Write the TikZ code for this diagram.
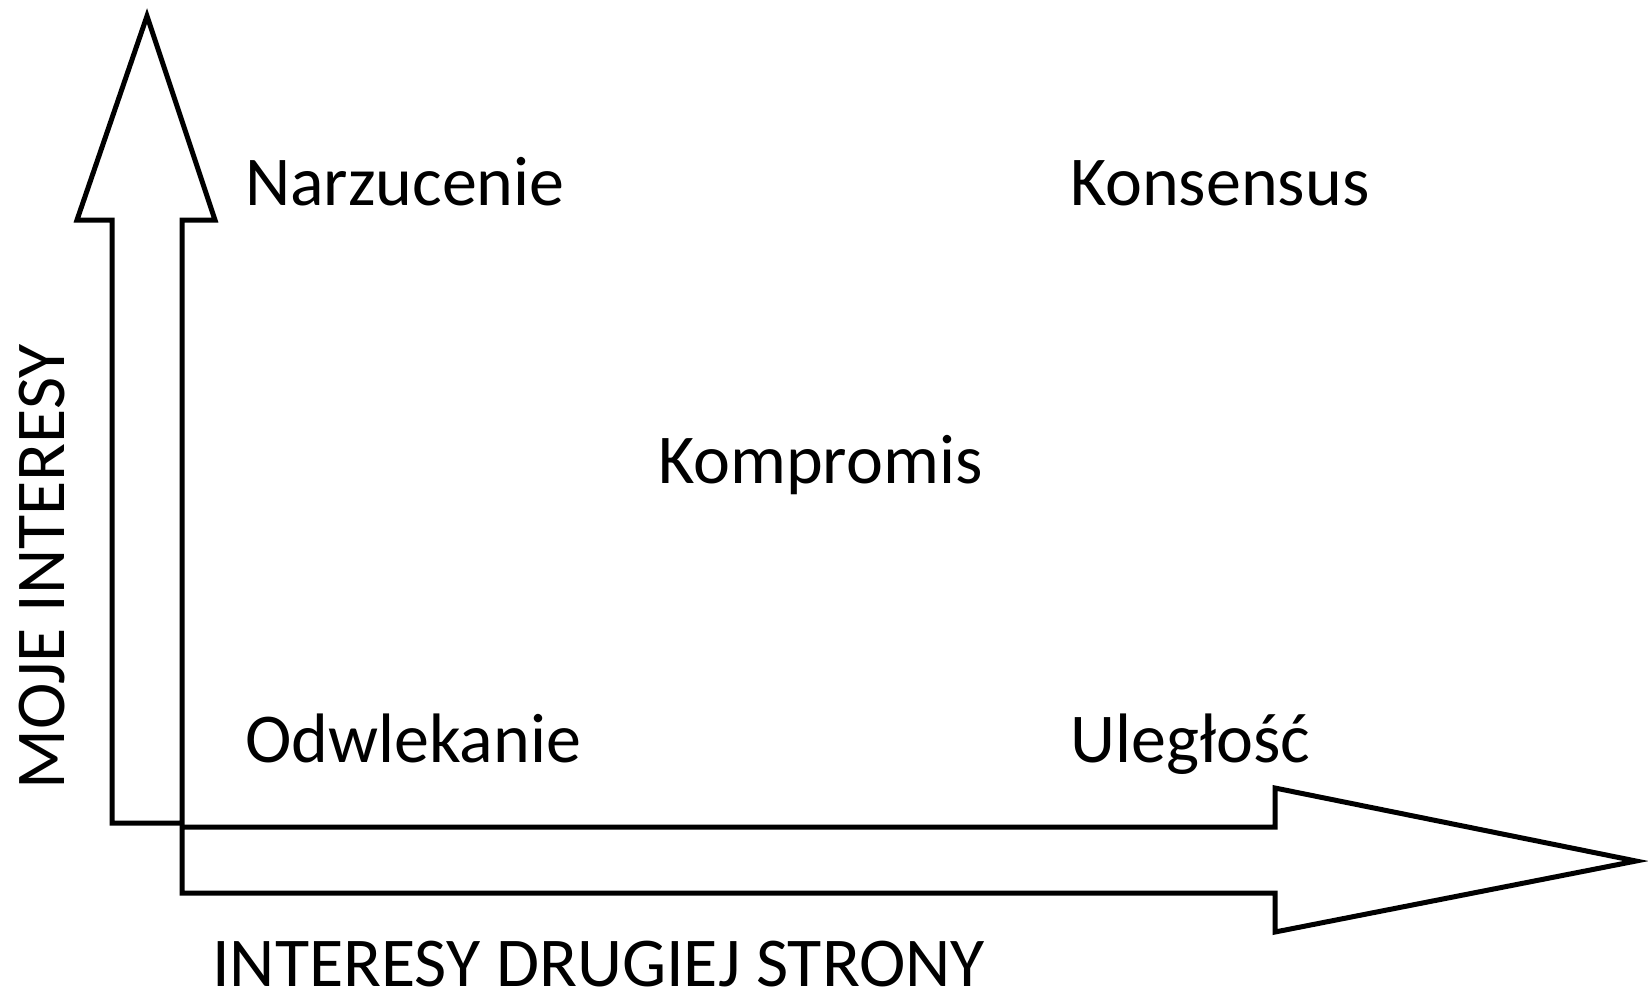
\documentclass[tikz,border=0pt]{standalone}
\usepackage{fontspec}
\setmainfont{Carlito}
\usetikzlibrary{positioning}
\tikzset{
    axisarrow/.style={draw=black, fill=white, line width=5pt, line join=miter},
    quadlabel/.style={font=\fontsize{70}{84}\selectfont, anchor=base west, inner sep=0pt},
    axislabel/.style={font=\fontsize{70}{84}\selectfont, anchor=base west, inner sep=0pt, text depth=0pt}
}

\begin{document}
\begin{tikzpicture}[x=1pt, y=-1pt]

\useasboundingbox (0,0) rectangle (1648,994);

% vertical axis arrow
\draw[axisarrow] (112,823) -- (112,220) -- (77,220) -- (147,16) -- (215,220)
    -- (182,220) -- (182,823) -- cycle;
% horizontal axis arrow
\draw[axisarrow] (182,827) -- (1275,827) -- (1275,788) -- (1636,861)
    -- (1275,932) -- (1275,893) -- (182,893) -- cycle;

\node[quadlabel] (narz) at (245,205) {Narzucenie};
\node[quadlabel] (kons) at (1070,205) {Konsensus};
\node[quadlabel] (komp) at (658,483) {Kompromis};
\node[quadlabel] (odwl) at (245,762) {Odwlekanie};
\node[quadlabel] (uleg) at (1070,762) {Uległość};

\node[axislabel] (xlab) at (212,986) {INTERESY DRUGIEJ STRONY};
\node[axislabel, rotate=90] (ylab) at (64,790) {MOJE INTERESY};

\end{tikzpicture}
\end{document}
